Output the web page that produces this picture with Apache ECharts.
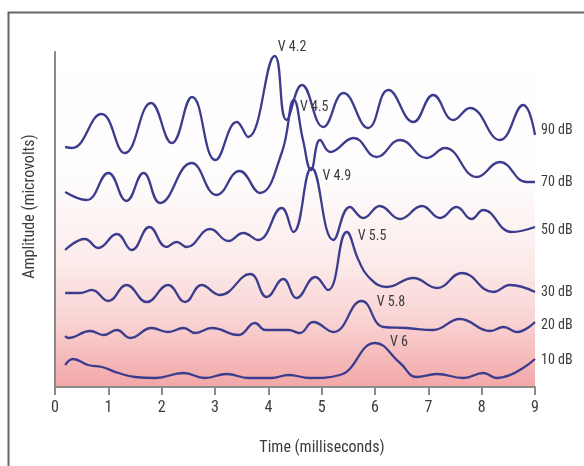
<!DOCTYPE html>
<html>
<head>
<meta charset="utf-8">
<script src="https://cdn.jsdelivr.net/npm/echarts@6/dist/echarts.min.js"></script>
<style>
html,body{margin:0;padding:0;background:#fff;}
#chart{width:584px;height:466px;}
</style>
</head>
<body>
<div id="chart"></div>
<script>
// ---- Data (time in ms, amplitude in arbitrary stacked units) ----
var xTicks = [0,1,2,3,4,5,6,7,8,9];
var seriesNames = ['90 dB','70 dB','50 dB','30 dB','20 dB','10 dB'];

var t90 = [0.19,0.32,0.87,1.31,1.80,2.19,2.57,3.01,3.41,3.62,4.12,4.34,4.63,5.03,5.41,5.87,6.25,6.72,7.09,7.47,7.78,8.34,8.78,9.0];
var a90 = [24.0,23.9,27.3,23.4,28.4,24.4,29.0,22.7,26.5,25.0,33.1,26.7,30.2,26.0,29.4,25.9,29.7,26.5,29.2,26.7,27.9,24.7,28.2,25.2];

var t70 = [0.19,0.59,1.00,1.34,1.66,1.97,2.56,3.03,3.46,3.84,4.25,4.48,4.65,4.80,4.97,5.16,5.60,6.03,6.47,6.97,7.31,7.91,8.34,8.84,9.0];
var a70 = [19.5,18.7,21.4,18.6,21.4,18.4,22.4,19.2,21.6,19.4,23.4,28.7,24.7,21.7,24.7,23.5,24.9,23.0,24.7,22.9,23.9,21.0,22.5,20.5,20.5];

var t50 = [0.19,0.56,0.81,1.16,1.44,1.77,2.09,2.28,2.47,2.91,3.25,3.53,3.81,4.25,4.47,4.81,5.22,5.53,5.78,6.09,6.47,6.88,7.22,7.53,7.81,8.03,8.56,9.0];
var a50 = [13.7,14.8,13.9,15.3,13.7,16.0,14.0,14.5,14.0,15.8,14.6,15.4,14.7,17.9,15.5,21.9,14.7,18.0,16.9,18.1,16.8,18.1,16.9,18.0,16.8,17.7,15.5,16.0];

var t30 = [0.19,0.47,0.69,1.00,1.34,1.72,2.12,2.44,2.75,3.09,3.66,3.97,4.28,4.53,4.88,5.12,5.47,5.69,5.88,6.22,6.72,7.16,7.63,8.22,8.53,9.0];
var a30 = [9.4,9.4,9.7,8.6,10.2,8.5,10.2,8.5,10.2,9.2,11.3,9.0,10.8,8.9,11.0,9.7,15.5,12.7,11.0,10.0,10.9,9.9,11.4,9.5,10.2,9.5];

var t20 = [0.19,0.25,0.66,0.91,1.16,1.41,1.81,2.12,2.41,2.63,2.94,3.44,3.75,3.94,4.38,4.59,4.84,5.22,5.75,6.16,6.59,7.09,7.59,8.16,8.41,8.66,9.0];
var a20 = [5.1,4.9,5.6,5.2,5.7,4.9,5.9,5.5,5.9,5.4,5.9,5.2,6.4,5.7,5.7,5.4,6.5,5.5,8.6,6.0,5.9,5.7,6.8,5.6,6.0,5.5,6.5];

var t10 = [0.19,0.34,0.62,0.88,1.19,1.50,1.88,2.41,2.81,3.22,3.63,4.06,4.38,4.78,5.34,6.00,6.47,6.78,7.16,7.66,8.03,8.28,9.0];
var a10 = [2.2,2.8,2.2,2.0,1.4,1.0,0.9,1.4,0.9,1.3,0.9,0.9,1.2,0.9,1.2,4.4,2.4,1.0,1.3,0.9,1.4,0.9,2.8];

// wave V peak labels (one per trace)
var peakLabels = ['V 4.2','V 4.5','V 4.9','V 5.5','V 5.8','V 6'];
var peakTimes  = [4.12, 4.48, 4.81, 5.47, 5.75, 6.00];

// ---- Presentation ----
var FONT = '"Roboto Condensed",Roboto,sans-serif';
var TXT = '#3c3c3c';
var times = [t90,t70,t50,t30,t20,t10];
var amps  = [a90,a70,a50,a30,a20,a10];
var peakOffsets = [[3,-9],[6,7],[11,8],[11,4],[15,1],[15,-1]];
var endOffsets = [[1,-5],[1,0],[1,3],[1,0],[1,3],[1,1]];

function pairs(t,a){ return t.map(function(x,i){ return [x,a[i]]; }); }

var series = seriesNames.map(function(name,i){
  var pt = peakTimes[i];
  var idx = times[i].indexOf(pt);
  return {
    name: name,
    type: 'line',
    data: pairs(times[i], amps[i]),
    smooth: 0.45,
    symbol: 'none',
    lineStyle: {color:'#3c3c8e', width:2.3},
    endLabel: {
      show: true,
      formatter: name,
      color: TXT,
      fontFamily: FONT,
      fontSize: 14,
      distance: 5,
      offset: endOffsets[i]
    },
    markPoint: {
      symbol: 'circle',
      symbolSize: 0,
      silent: true,
      data: [{
        coord: [pt, amps[i][idx]],
        label: {
          show: true,
          formatter: peakLabels[i],
          position: peakOffsets[i],
          align: 'left',
          verticalAlign: 'middle',
          color: TXT,
          fontFamily: FONT,
          fontSize: 14
        }
      }]
    },
    z: 3
  };
});

var chart = echarts.init(document.getElementById('chart'), null, {renderer:'canvas'});
chart.setOption({
  animation: false,
  backgroundColor: '#ffffff',
  grid: {
    left: 55, top: 52, right: 49, bottom: 79,
    show: true,
    borderWidth: 0,
    backgroundColor: {
      type: 'linear', x: 0, y: 0, x2: 0, y2: 1,
      colorStops: [
        {offset: 0, color: '#ffffff'},
        {offset: 0.4, color: '#fefbfb'},
        {offset: 0.62, color: '#fcebeb'},
        {offset: 0.8, color: '#f9d3d3'},
        {offset: 1, color: '#f2a7a8'}
      ]
    }
  },
  graphic: [{
    type: 'rect',
    left: 6, top: 10,
    shape: {width: 620, height: 520},
    style: {fill: 'none', stroke: '#666666', lineWidth: 2},
    silent: true
  }],
  xAxis: {
    type: 'value',
    min: xTicks[0], max: xTicks[xTicks.length-1], interval: 1,
    name: 'Time (milliseconds)',
    nameLocation: 'middle',
    nameGap: 53,
    nameTextStyle: {color: TXT, fontFamily: FONT, fontSize: 16, padding: [0,0,0,54]},
    axisLine: {show: true, lineStyle: {color:'#8a8a8a', width: 2}},
    axisTick: {show: true, length: 8, lineStyle: {color:'#8a8a8a', width: 2}},
    axisLabel: {color: TXT, fontFamily: FONT, fontSize: 16, margin: 13},
    splitLine: {show: false}
  },
  yAxis: {
    type: 'value',
    min: 0, max: 33.5,
    name: 'Amplitude (microvolts)',
    nameLocation: 'middle',
    nameGap: 17,
    nameRotate: 90,
    nameTextStyle: {color: TXT, fontFamily: FONT, fontSize: 16, padding: [0,0,0,26]},
    axisLine: {show: true, lineStyle: {color:'#8a8a8a', width: 2}},
    axisTick: {show: false},
    axisLabel: {show: false},
    splitLine: {show: false}
  },
  series: series
});
</script>
</body>
</html>
